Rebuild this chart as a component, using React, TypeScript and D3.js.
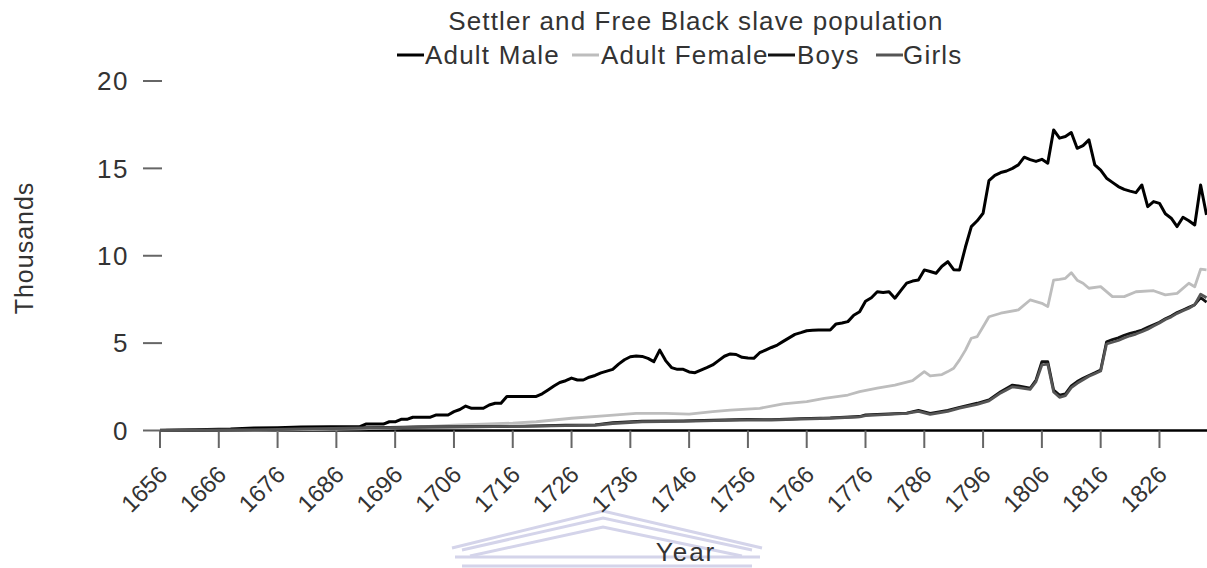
import React from "react";
import * as d3 from "d3";

const title = "Settler and Free Black slave population";
const seriesNames = ["Adult Male", "Adult Female", "Boys", "Girls"];
const seriesColors = ["#000000", "#bdbdbd", "#111111", "#555555"];
const yTicks = [0, 5, 10, 15, 20];
const xTicks = [1656, 1666, 1676, 1686, 1696, 1706, 1716, 1726, 1736, 1746, 1756, 1766, 1776, 1786, 1796, 1806, 1816, 1826];

const adultMale: [number, number][] = [
  [1656,0.02],[1662,0.04],[1668,0.08],[1672,0.14],[1676,0.16],[1680,0.2],[1685,0.22],[1690,0.22],[1691,0.37],[1694,0.37],
  [1695,0.5],[1696,0.5],[1697,0.64],[1698,0.64],[1699,0.76],[1702,0.76],[1703,0.89],[1705,0.89],[1706,1.08],[1707,1.2],
  [1708,1.4],[1709,1.27],[1711,1.27],[1712,1.46],[1713,1.56],[1714,1.56],[1715,1.95],[1720,1.95],[1721,2.1],[1722,2.32],
  [1723,2.55],[1724,2.75],[1725,2.85],[1726,3.0],[1727,2.89],[1728,2.89],[1729,3.05],[1730,3.15],[1731,3.3],[1732,3.4],
  [1733,3.5],[1734,3.8],[1735,4.05],[1736,4.22],[1737,4.26],[1738,4.24],[1739,4.13],[1740,3.94],[1741,4.6],[1742,4.0],
  [1743,3.6],[1744,3.5],[1745,3.5],[1746,3.35],[1747,3.31],[1748,3.46],[1749,3.6],[1750,3.75],[1751,4.0],[1752,4.25],
  [1753,4.38],[1754,4.35],[1755,4.19],[1756,4.15],[1757,4.13],[1758,4.45],[1759,4.6],[1760,4.75],[1761,4.89],[1762,5.1],
  [1763,5.3],[1764,5.5],[1765,5.6],[1766,5.71],[1767,5.73],[1768,5.75],[1770,5.75],[1771,6.1],[1772,6.15],[1773,6.23],
  [1774,6.6],[1775,6.8],[1776,7.4],[1777,7.6],[1778,7.94],[1779,7.9],[1780,7.94],[1781,7.57],[1782,8.0],[1783,8.43],
  [1784,8.55],[1785,8.61],[1786,9.19],[1787,9.1],[1788,9.0],[1789,9.4],[1790,9.66],[1791,9.2],[1792,9.19],[1793,10.5],
  [1794,11.67],[1795,12.0],[1796,12.43],[1797,14.3],[1798,14.6],[1799,14.76],[1800,14.85],[1801,15.0],[1802,15.2],[1803,15.64],
  [1804,15.5],[1805,15.4],[1806,15.52],[1807,15.3],[1808,17.2],[1809,16.73],[1810,16.82],[1811,17.05],[1812,16.15],[1813,16.3],
  [1814,16.63],[1815,15.2],[1816,14.9],[1817,14.44],[1818,14.2],[1819,13.96],[1820,13.8],[1821,13.7],[1822,13.61],[1823,14.05],
  [1824,12.81],[1825,13.1],[1826,13.0],[1827,12.4],[1828,12.15],[1829,11.67],[1830,12.2],[1831,12.0],[1832,11.76],[1833,14.05],
  [1834,12.34]
];

const adultFemale: [number, number][] = [
  [1656,0],[1670,0.02],[1680,0.05],[1690,0.1],[1696,0.15],[1700,0.2],[1706,0.3],[1712,0.38],[1716,0.42],[1720,0.5],
  [1726,0.7],[1732,0.85],[1737,0.98],[1742,0.98],[1746,0.94],[1750,1.08],[1753,1.17],[1758,1.27],[1762,1.52],[1766,1.65],
  [1769,1.84],[1773,2.03],[1775,2.22],[1778,2.42],[1781,2.6],[1784,2.85],[1786,3.37],[1787,3.12],[1789,3.2],[1790,3.37],
  [1791,3.56],[1792,4.04],[1793,4.6],[1794,5.28],[1795,5.37],[1796,5.94],[1797,6.51],[1799,6.71],[1802,6.9],[1804,7.47],
  [1806,7.28],[1807,7.09],[1808,8.61],[1809,8.65],[1810,8.71],[1811,9.03],[1812,8.6],[1813,8.43],[1814,8.14],[1816,8.23],
  [1818,7.66],[1820,7.66],[1822,7.94],[1825,8.0],[1827,7.76],[1829,7.85],[1831,8.43],[1832,8.23],[1833,9.23],[1834,9.19]
];

const boys: [number, number][] = [
  [1656,0],[1665,0.02],[1672,0.05],[1680,0.1],[1688,0.15],[1695,0.18],[1700,0.2],[1710,0.22],[1718,0.25],[1725,0.3],
  [1730,0.32],[1733,0.45],[1738,0.54],[1745,0.55],[1752,0.6],[1756,0.64],[1760,0.62],[1765,0.68],[1770,0.72],[1775,0.8],
  [1776,0.89],[1780,0.95],[1783,1.0],[1785,1.15],[1787,0.98],[1790,1.15],[1792,1.33],[1795,1.56],[1797,1.75],[1799,2.22],
  [1801,2.6],[1802,2.55],[1804,2.42],[1805,2.89],[1806,3.94],[1807,3.94],[1808,2.32],[1809,2.03],[1810,2.1],[1811,2.55],
  [1812,2.8],[1813,2.99],[1814,3.15],[1815,3.3],[1816,3.46],[1817,5.08],[1818,5.2],[1819,5.3],[1820,5.45],[1821,5.56],
  [1822,5.65],[1823,5.75],[1824,5.9],[1825,6.05],[1826,6.2],[1827,6.4],[1828,6.55],[1829,6.75],[1830,6.9],[1831,7.05],
  [1832,7.2],[1833,7.6],[1834,7.35]
];

const girls: [number, number][] = [
  [1656,0],[1665,0.02],[1672,0.04],[1680,0.09],[1688,0.13],[1695,0.17],[1700,0.19],[1710,0.21],[1718,0.24],[1725,0.28],
  [1730,0.3],[1733,0.4],[1738,0.5],[1745,0.52],[1752,0.58],[1756,0.6],[1760,0.6],[1765,0.65],[1770,0.7],[1775,0.78],
  [1776,0.85],[1780,0.92],[1783,0.98],[1785,1.1],[1787,0.92],[1790,1.1],[1792,1.28],[1795,1.5],[1797,1.7],[1799,2.15],
  [1801,2.5],[1802,2.45],[1804,2.35],[1805,2.8],[1806,3.75],[1807,3.8],[1808,2.2],[1809,1.9],[1810,2.0],[1811,2.45],
  [1812,2.7],[1813,2.9],[1814,3.1],[1815,3.25],[1816,3.4],[1817,4.95],[1818,5.05],[1819,5.15],[1820,5.3],[1821,5.42],
  [1822,5.52],[1823,5.65],[1824,5.8],[1825,5.98],[1826,6.15],[1827,6.35],[1828,6.5],[1829,6.7],[1830,6.85],[1831,7.0],
  [1832,7.2],[1833,7.8],[1834,7.6]
];

const allSeries = [adultMale, adultFemale, boys, girls];

const W = 1207;
const H = 568;
const FONT = "'Liberation Sans', Arial, sans-serif";

export default function App() {
  const x = d3.scaleLinear().domain([1656, 1834]).range([160, 1206.5]);
  const y = d3.scaleLinear().domain([0, 20]).range([430.5, 81]);
  const line = d3
    .line<[number, number]>()
    .x((d) => x(d[0]))
    .y((d) => y(d[1]))
    .curve(d3.curveLinear);

  const legendItems = [
    { name: seriesNames[0], color: seriesColors[0], lx: 397, tx: 425 },
    { name: seriesNames[1], color: seriesColors[1], lx: 572, tx: 601 },
    { name: seriesNames[2], color: seriesColors[2], lx: 768, tx: 797 },
    { name: seriesNames[3], color: seriesColors[3], lx: 876, tx: 903 },
  ];

  return (
    <svg
      width={W}
      height={H}
      style={{ position: "absolute", left: 0, top: 0, background: "#fff" }}
      fontFamily={FONT}
    >
      <rect x={0} y={0} width={W} height={H} fill="#fff" />
      {/* watermark */}
      <g fill="none" stroke="#d4d4ea" strokeWidth={3}>
        <polyline points="452,548 603,511 762,548" />
        <polyline points="462,550 603,518 752,550" />
        <polyline points="470,556 603,527 742,556" />
        <line x1={455} y1={557} x2={760} y2={557} />
        <line x1={462} y1={566} x2={752} y2={566} />
      </g>
      {/* title */}
      <text x={696} y={30} textAnchor="middle" fontSize={26} letterSpacing={1.1} fill="#333">
        {title}
      </text>
      {/* legend */}
      {legendItems.map((it) => (
        <g key={it.name}>
          <line x1={it.lx} x2={it.lx + 27} y1={55} y2={55} stroke={it.color} strokeWidth={3} />
          <text x={it.tx} y={64} fontSize={26} letterSpacing={1.2} fill="#333">
            {it.name}
          </text>
        </g>
      ))}
      {/* y axis ticks */}
      {yTicks.map((t) => (
        <g key={t}>
          <line x1={143} x2={162} y1={y(t)} y2={y(t)} stroke="#666" strokeWidth={2} />
          <text x={129} y={y(t)} dy="0.36em" textAnchor="end" fontSize={26} letterSpacing={1.5} fill="#333">
            {t}
          </text>
        </g>
      ))}
      <text
        transform={`translate(33,248) rotate(-90)`}
        textAnchor="middle"
        fontSize={25}
        letterSpacing={1}
        fill="#333"
      >
        Thousands
      </text>
      {/* x axis */}
      <line x1={160} x2={W} y1={y(0)} y2={y(0)} stroke="#000" strokeWidth={2.5} />
      {xTicks.map((t) => (
        <g key={t}>
          <line x1={x(t)} x2={x(t)} y1={y(0)} y2={448} stroke="#666" strokeWidth={2} />
          <text
            transform={`translate(${x(t) + 9},${476}) rotate(-45)`}
            textAnchor="end"
            fontSize={24}
            fill="#333"
          >
            {t}
          </text>
        </g>
      ))}
      <text x={686} y={561} textAnchor="middle" fontSize={26} letterSpacing={2} fill="#333">
        Year
      </text>
      {/* series */}
      {allSeries.map((s, i) => (
        <path
          key={seriesNames[i]}
          d={line(s) || ""}
          fill="none"
          stroke={seriesColors[i]}
          strokeWidth={i === 0 ? 3 : 2.8}
          strokeLinejoin="round"
        />
      ))}
    </svg>
  );
}
